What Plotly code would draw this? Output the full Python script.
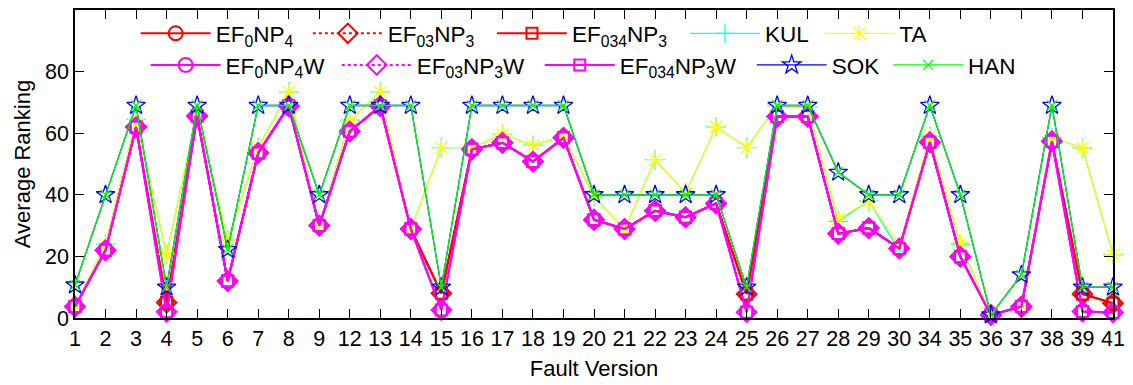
import plotly.graph_objects as go

versions = ["1","2","3","4","5","6","7","8","9","12","13","14","15","16","17","18","19",
            "20","21","22","23","24","25","26","27","28","29","30","34","35","36","37","38","39","41"]

ef_plain = [3.7, 22, 62, 5, 65.6, 12, 53.6, 68.8, 30, 60.6, 68.8, 28.9, 8, 54.8, 56.9, 50.8, 58.5,
            31.9, 28.9, 34.8, 32.7, 37.2, 7.8, 65.4, 65.4, 27.4, 29.2, 22.6, 57.1, 19.9, 1, 3.7, 57.4, 7.8, 4.8]
ef_w = [3.7, 22, 62, 2, 65.6, 12, 53.6, 68.8, 30, 60.6, 68.8, 28.9, 2.6, 54.8, 56.9, 50.8, 58.5,
        31.9, 28.9, 34.8, 32.7, 37.2, 1.9, 65.4, 65.4, 27.4, 29.2, 22.6, 57.1, 19.9, 1, 3.7, 57.4, 2.1, 1.8]
ta = [3.8, 24, 64.5, 20.7, 66.5, 25.3, 55.3, 73.4, 30.2, 64.2, 73.4, 28.8, 55.3, 55.3, 59.6, 56.1, 59,
      39.5, 28.7, 51.4, 40.6, 62.1, 55.3, 69, 68.5, 32.2, 38, 23.6, 59, 24.5, 1, 3.9, 58.6, 55.2, 20.6]
kul = [3.8, 24, 64.5, 20.7, 66.5, 25.3, 55.3, 73.4, 30.2, 64.2, 73.4, 28.8, 55.3, 55.3, 59.6, 56.1, 59,
       39.5, 28.7, 51.4, 40.6, 62.1, 55.3, 69, 68.5, 31.4, 38, 21.8, 59, 24, 1, 3.9, 58.6, 55.2, 20.6]
sok = [10.7, 40, 69, 10, 69, 22.2, 69, 69, 40, 69, 69, 69, 10, 69, 69, 69, 69,
       40, 40, 40, 40, 40, 10, 69, 69, 47.3, 40, 40, 69, 40, 1, 14, 69, 10, 10]
han = list(sok)

series = [
    # name, values, color, dash, symbol, size, width, row, xpix
    ("EF<sub>0</sub>NP<sub>4</sub>", ef_plain, "#ff0000", "solid", "circle-open", 14, 2, 1, 137),
    ("EF<sub>03</sub>NP<sub>3</sub>", ef_plain, "#ff0000", "dot", "diamond-open", 15, 2, 1, 310),
    ("EF<sub>034</sub>NP<sub>3</sub>", ef_plain, "#ff0000", "solid", "square-open", 11, 2, 1, 495),
    ("KUL", kul, "#00ffff", "solid", "cross-thin-open", 14, 1.3, 1, 689),
    ("TA", ta, "#ffff00", "solid", "asterisk-open", 14, 1.3, 1, 824),
    ("EF<sub>0</sub>NP<sub>4</sub>W", ef_w, "#ff00ff", "solid", "circle-open", 14, 2, 2, 147),
    ("EF<sub>03</sub>NP<sub>3</sub>W", ef_w, "#ff00ff", "dot", "diamond-open", 15, 2, 2, 339),
    ("EF<sub>034</sub>NP<sub>3</sub>W", ef_w, "#ff00ff", "solid", "square-open", 11, 2, 2, 543),
    ("SOK", sok, "#0000ff", "solid", "star-open", 14, 1.3, 2, 756),
    ("HAN", han, "#00ff00", "solid", "x-thin-open", 10, 1.3, 2, 893),
]

FONT = "Liberation Sans, Arial, Helvetica, sans-serif"
L, R, T, B = 75, 15, 8, 65
W, H = 1133, 385
pw = W - L - R
ph = H - T - B

fig = go.Figure()
layout_legends = {}
for i, (name, vals, color, dash, sym, size, lw, row, xpix) in enumerate(series):
    key = "legend" if i == 0 else f"legend{i+1}"
    fig.add_trace(go.Scatter(
        x=versions, y=vals, name=name, mode="lines+markers",
        line=dict(color=color, width=lw, dash=dash),
        marker=dict(symbol=sym, size=size, color=color,
                    line=dict(color=color, width=lw)),
        cliponaxis=False, legend=key,
    ))
    ycen = 32 if row == 1 else 64
    layout_legends[key] = dict(
        x=(xpix - L) / pw - 0.001, y=(H - B - ycen) / ph,
        xanchor="left", yanchor="middle",
        bgcolor="rgba(0,0,0,0)", borderwidth=0,
        itemwidth=70, font=dict(family=FONT, size=22.5, color="black"),
        orientation="h",
    )

fig.update_layout(
    width=W, height=H,
    margin=dict(l=L, r=R, t=T, b=B),
    paper_bgcolor="white", plot_bgcolor="white",
    font=dict(family=FONT, size=21.5, color="black"),
    showlegend=True,
    **layout_legends,
)
fig.update_xaxes(
    type="category", range=[0, len(versions) - 1],
    showline=True, linecolor="black", linewidth=1.5, mirror="ticks",
    ticks="inside", ticklen=9, tickwidth=1, tickcolor="black",
    showgrid=False, zeroline=False,
    tickfont=dict(family=FONT, size=21.5, color="black"),
    title=dict(text="Fault Version", font=dict(family=FONT, size=22, color="black"), standoff=11),
)
fig.update_yaxes(
    range=[0, 100], tickvals=[0, 20, 40, 60, 80],
    showline=True, linecolor="black", linewidth=1.5, mirror="ticks",
    ticks="inside", ticklen=9, tickwidth=1, tickcolor="black",
    showgrid=False, zeroline=False,
    tickfont=dict(family=FONT, size=21.5, color="black"),
    title=dict(text="Average Ranking", font=dict(family=FONT, size=22, color="black"), standoff=8),
)

fig.write_html("out.html", config={"displayModeBar": False},
               post_script="document.body.style.margin='0';document.body.style.overflow='hidden';")
